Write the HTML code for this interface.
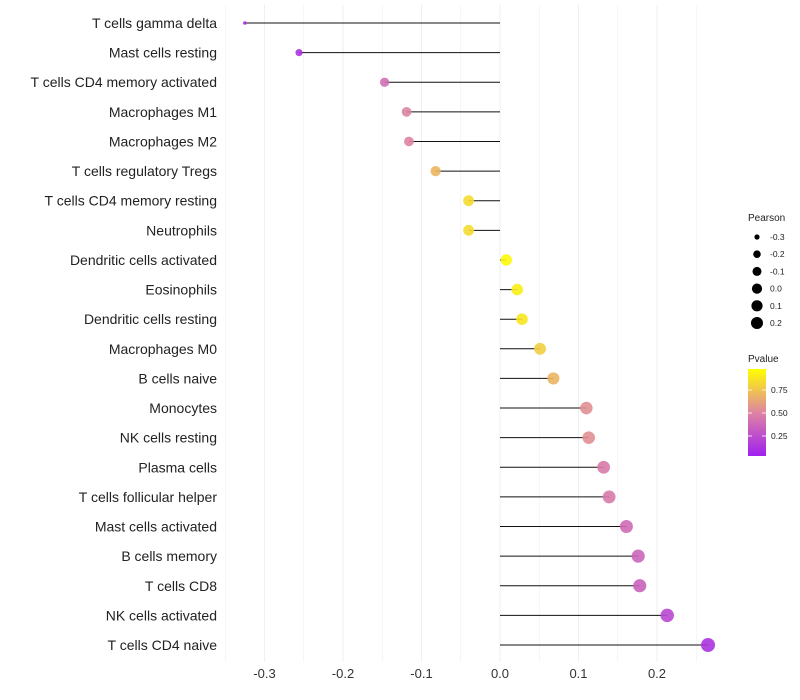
<!DOCTYPE html>
<html><head><meta charset="utf-8"><style>
body{margin:0;background:#fff;font-family:"Liberation Sans",sans-serif;}
svg{display:block}
</style></head><body>
<svg id="chart" width="800" height="700" xmlns="http://www.w3.org/2000/svg"></svg>
<script>
const categories=["T cells gamma delta","Mast cells resting","T cells CD4 memory activated","Macrophages M1","Macrophages M2","T cells regulatory  Tregs","T cells CD4 memory resting","Neutrophils","Dendritic cells activated","Eosinophils","Dendritic cells resting","Macrophages M0","B cells naive","Monocytes","NK cells resting","Plasma cells","T cells follicular helper","Mast cells activated","B cells memory","T cells CD8","NK cells activated","T cells CD4 naive"];
const pearson=[-0.325,-0.256,-0.147,-0.119,-0.116,-0.082,-0.040,-0.040,0.008,0.022,0.028,0.051,0.068,0.110,0.113,0.132,0.139,0.161,0.176,0.178,0.213,0.265];
const pvalue=[0.05,0.1,0.4,0.5,0.5,0.7,0.85,0.85,0.97,0.93,0.9,0.8,0.7,0.55,0.55,0.45,0.45,0.38,0.35,0.33,0.2,0.1];
const xTicks=[-0.3,-0.2,-0.1,0.0,0.1,0.2];
const sizeLegend=[-0.3,-0.2,-0.1,0.0,0.1,0.2];
const pTicks=[0.25,0.50,0.75];

const NS="http://www.w3.org/2000/svg";
const svg=document.getElementById('chart');
function mk(t,a,p){const e=document.createElementNS(NS,t);for(const k in a)e.setAttribute(k,a[k]);(p||svg).appendChild(e);return e;}
const x=v=>500+v*785;
const y=i=>23+i*(645-23)/(categories.length-1);
const rad=v=>1.8+5.2*Math.sqrt(Math.max(0,(v+0.325)/0.59));
function col(p){
  const s=[[160,32,240],[222,132,162],[255,255,0]];
  let a,b,t;
  if(p<0.5){a=s[0];b=s[1];t=p/0.5;}else{a=s[1];b=s[2];t=(p-0.5)/0.5;}
  return `rgb(${a.map((c,k)=>Math.round(c+(b[k]-c)*t)).join(',')})`;
}
const grid=mk('g',{});


for(let k=-7;k<=6;k++){
  const v=k*0.05, xx=x(v); if(xx<225||xx>715)continue;
  mk('line',{x1:xx,x2:xx,y1:5,y2:662,stroke:'#efefef','stroke-width':k%2?0.6:1},grid);
}
xTicks.forEach(v=>{
  const t=mk('text',{x:x(v),y:678,'text-anchor':'middle','font-size':13,fill:'#333'});
  t.textContent=v.toFixed(1);
  
  
});
categories.forEach((c,i)=>{
  const l=mk('text',{x:217,y:y(i)+5,'text-anchor':'end','font-size':14,fill:'#222'});
  l.textContent=c;
  
  
  const ln=mk('line',{x1:x(0),x2:x(pearson[i]),y1:y(i),y2:y(i),stroke:'#111','stroke-width':1});
  
  
  const d=mk('circle',{cx:x(pearson[i]),cy:y(i),r:rad(pearson[i]),fill:col(pvalue[i]),'fill-opacity':0.9});
  
  
});
const sl=mk('text',{x:748,y:221,'font-size':10,fill:'#222'});sl.textContent='Pearson';


sizeLegend.forEach((v,k)=>{
  const yy=237+k*17.2;
  const c=mk('circle',{cx:757,cy:yy,r:rad(v)*0.9,fill:'#000'});
  
  
  const t=mk('text',{x:770,y:yy+3,'font-size':8.5,fill:'#222'});t.textContent=v.toFixed(1);
  
  
});
const ct=mk('text',{x:748,y:362,'font-size':10,fill:'#222'});ct.textContent='Pvalue';


const defs=mk('defs',{});
const g=mk('linearGradient',{id:'pg',x1:0,y1:1,x2:0,y2:0},defs);
[0,0.25,0.5,0.75,1].forEach(o=>mk('stop',{offset:o,'stop-color':col(o)},g));
const bar=mk('rect',{x:748,y:369,width:18,height:87,fill:'url(#pg)'});


pTicks.forEach(p=>{
  const yy=459-p*92;
  mk('line',{x1:748,x2:752,y1:yy,y2:yy,stroke:'#fff','stroke-width':0.8});
  mk('line',{x1:762,x2:766,y1:yy,y2:yy,stroke:'#fff','stroke-width':0.8});
  const t=mk('text',{x:771,y:yy+3,'font-size':8.5,fill:'#222'});t.textContent=p.toFixed(2);
  
  
});
</script>
</body></html>
